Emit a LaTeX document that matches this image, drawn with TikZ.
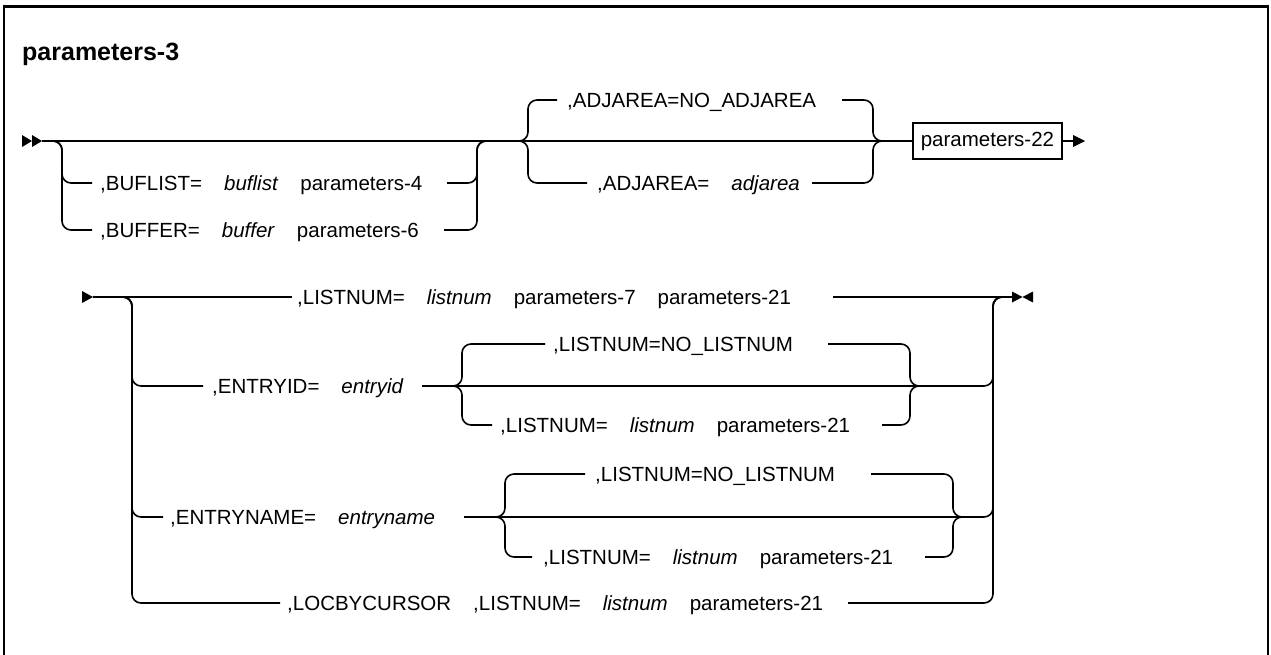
\documentclass[tikz,border=0pt]{standalone}
\usepackage{fontspec}
\setmainfont{Liberation Sans}
\newcommand\wgap{\hspace{22pt}}
\begin{document}
\begin{tikzpicture}[x=1pt,y=-1pt,
  rail/.style={line width=1.6pt, rounded corners=9pt},
  lbl/.style={anchor=base west, inner sep=0pt, font=\fontsize{20.5}{24}\selectfont},
  parmbox/.style={draw, line width=1.6pt, inner xsep=8pt, minimum height=36pt,
    anchor=west, font=\fontsize{20.5}{24}\selectfont},
  tip/.style={fill=black, draw=none}]
\useasboundingbox (0,0) rectangle (1271,654);
\clip (0,0) rectangle (1271,654);

% outer frame, open at the bottom
\draw[line width=2pt] (4,670) -- (4,6) -- (1268,6) -- (1268,670);
\draw[line width=3pt] (3,6) -- (1269,6);

\node[anchor=base west, inner sep=0pt, font=\fontsize{25}{30}\selectfont\bfseries]
  (title) at (22,60) {parameters-3};

% ---------------- first line ----------------
\coordinate (st1) at (42,141);
\fill[tip] (22,135) -- (32,141) -- (22,147) -- cycle;
\fill[tip] (32,135) -- (42,141) -- (32,147) -- cycle;

\node[parmbox] (p22) at (912,141) {parameters-22};
\draw[rail] (st1) -- (p22.west);

% optional BUFLIST / BUFFER
\coordinate (g1l) at (52,141);
\coordinate (g1r) at (487,141);
\coordinate (bl1) at (92,183);
\coordinate (bl2) at (92,230);
\coordinate (br1) at (447,183);
\coordinate (br2) at (444,230);
\node[lbl] (buflist) at (100,190) {,BUFLIST=\wgap\textit{buflist}\wgap parameters-4};
\node[lbl] (buffer) at (100,237) {,BUFFER=\wgap\textit{buffer}\wgap parameters-6};
\draw[rail] (g1l) -- ++(10,0) |- (bl1);
\draw[rail] (g1l) -- ++(10,0) |- (bl2);
\draw[rail] (g1r) -- ++(-10,0) |- (br1);
\draw[rail] (g1r) -- ++(-10,0) |- (br2);

% ADJAREA choice
\coordinate (g2l) at (518,141);
\coordinate (g2r) at (883,141);
\coordinate (al1) at (557,100);
\coordinate (al2) at (587,183);
\coordinate (ar1) at (842,100);
\coordinate (ar2) at (812,183);
\node[lbl] (adjdef) at (567,107) {,ADJAREA=NO\_ADJAREA};
\node[lbl] (adjval) at (597,190) {,ADJAREA=\wgap\textit{adjarea}};
\draw[rail] (g2l) -- ++(10,0) |- (al1);
\draw[rail] (g2l) -- ++(10,0) |- (al2);
\draw[rail] (g2r) -- ++(-10,0) |- (ar1);
\draw[rail] (g2r) -- ++(-10,0) |- (ar2);

\coordinate (arr1) at (1073,141);
\draw[line width=1.6pt] (p22.east) -- (arr1);
\fill[tip] (1073,135) -- (1085,141) -- (1073,147) -- cycle;

% ---------------- second line ----------------
\coordinate (st2) at (93,297);
\fill[tip] (82,291) -- (93,297) -- (82,303) -- cycle;
\coordinate (sp2) at (123,297);
\coordinate (jn2) at (1003,297);
\coordinate (en2) at (1012,297);
\fill[tip] (1012,291.5) -- (1022.5,297) -- (1012,302.5) -- cycle;
\fill[tip] (1033,291.5) -- (1022.5,297) -- (1033,302.5) -- cycle;

% LISTNUM branch
\coordinate (la1) at (292,297);
\coordinate (la2) at (833,297);
\node[lbl] (listnum) at (297,304) {,LISTNUM=\wgap\textit{listnum}\wgap parameters-7\wgap parameters-21};
\draw[rail] (st2) -- (la1);
\draw[rail] (la2) -- (en2);

% ENTRYID branch
\coordinate (eb1) at (203,386);
\coordinate (eb2) at (422,386);
\coordinate (ec1) at (453,386);
\coordinate (ec2) at (918,386);
\node[lbl] (entryid) at (212,393) {,ENTRYID=\wgap\textit{entryid}};
\draw[rail] (sp2) -- ++(9,0) |- (eb1);
\draw[rail] (eb2) -- (ec2);
\draw[rail] (jn2) -- ++(-10,0) |- (ec2);
\coordinate (et1) at (545,344);
\coordinate (et2) at (828,344);
\coordinate (eu1) at (492,425);
\coordinate (eu2) at (882,425);
\node[lbl] (eiddef) at (553,351) {,LISTNUM=NO\_LISTNUM};
\node[lbl] (eidval) at (500,432) {,LISTNUM=\wgap\textit{listnum}\wgap parameters-21};
\draw[rail] (ec1) -- ++(9,0) |- (et1);
\draw[rail] (ec1) -- ++(9,0) |- (eu1);
\draw[rail] (ec2) -- ++(-8,0) |- (et2);
\draw[rail] (ec2) -- ++(-8,0) |- (eu2);

% ENTRYNAME branch
\coordinate (nb1) at (163,517);
\coordinate (nb2) at (464,517);
\coordinate (nc1) at (497,517);
\coordinate (nc2) at (960,517);
\node[lbl] (entryname) at (170,524) {,ENTRYNAME=\wgap\textit{entryname}};
\draw[rail] (sp2) -- ++(9,0) |- (nb1);
\draw[rail] (nb2) -- (nc2);
\draw[rail] (jn2) -- ++(-10,0) |- (nc2);
\coordinate (nt1) at (585,474);
\coordinate (nt2) at (871,474);
\coordinate (nu1) at (532,557);
\coordinate (nu2) at (925,557);
\node[lbl] (enmdef) at (595,481) {,LISTNUM=NO\_LISTNUM};
\node[lbl] (enmval) at (543,564) {,LISTNUM=\wgap\textit{listnum}\wgap parameters-21};
\draw[rail] (nc1) -- ++(8,0) |- (nt1);
\draw[rail] (nc1) -- ++(8,0) |- (nu1);
\draw[rail] (nc2) -- ++(-7,0) |- (nt2);
\draw[rail] (nc2) -- ++(-7,0) |- (nu2);

% LOCBYCURSOR branch
\coordinate (lb1) at (280,603);
\coordinate (lb2) at (848,603);
\node[lbl] (locby) at (287,610) {,LOCBYCURSOR\wgap ,LISTNUM=\wgap\textit{listnum}\wgap parameters-21};
\draw[rail] (sp2) -- ++(9,0) |- (lb1);
\draw[rail] (jn2) -- ++(-10,0) |- (lb2);
\end{tikzpicture}
\end{document}
